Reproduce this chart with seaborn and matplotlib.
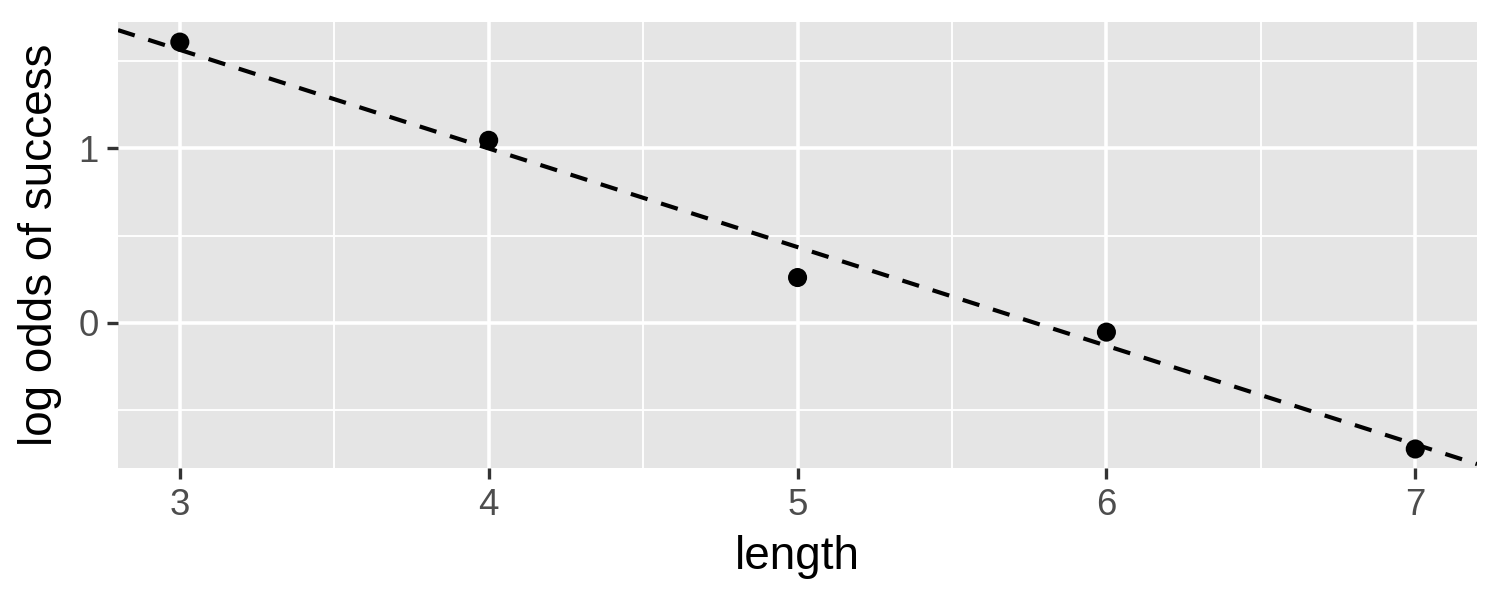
import matplotlib
matplotlib.use("Agg")
import matplotlib.pyplot as plt
import seaborn as sns
import pandas as pd

# values
length = [3, 4, 5, 6, 7]
log_odds = [1.609, 1.046, 0.259, -0.054, -0.724]

# fitted line (dashed)
fit_intercept = 3.261
fit_slope = -0.5655

df = pd.DataFrame({"length": length, "log_odds": log_odds})

sns.set_theme(style="darkgrid", rc={
    "axes.facecolor": "#E5E5E5",
    "grid.color": "white",
    "axes.edgecolor": "none",
})
plt.rcParams["font.family"] = ["Liberation Sans", "DejaVu Sans"]

fig = plt.figure(figsize=(5, 2), dpi=300)
ax = fig.add_axes([0.0787, 0.22, 0.906, 0.7433])

ax.axline((0, fit_intercept), slope=fit_slope, color="black",
          linestyle=(0, (4.2, 3.4)), linewidth=1.0, zorder=3)
sns.scatterplot(data=df, x="length", y="log_odds", color="black", s=21,
                edgecolor="none", ax=ax, zorder=4)

ax.set_xlim(2.8, 7.2)
ax.set_ylim(-0.833, 1.724)
ax.set_xticks([3, 4, 5, 6, 7])
ax.set_yticks([0, 1])
ax.set_xticks([3.5, 4.5, 5.5, 6.5], minor=True)
ax.set_yticks([-0.5, 0.5, 1.5], minor=True)
ax.grid(which="major", color="white", linewidth=0.85)
ax.grid(which="minor", color="white", linewidth=0.45)

ax.tick_params(axis="both", which="major", length=2.7, width=0.8, color="#333333",
               labelsize=8.8, labelcolor="#4D4D4D", pad=2, bottom=True, left=True)
ax.tick_params(axis="both", which="minor", length=0)

ax.set_xlabel("length", fontsize=11, labelpad=3, color="black")
ax.set_ylabel("log odds of success", fontsize=11, labelpad=4, color="black")

fig.savefig("out.png", dpi=300)
